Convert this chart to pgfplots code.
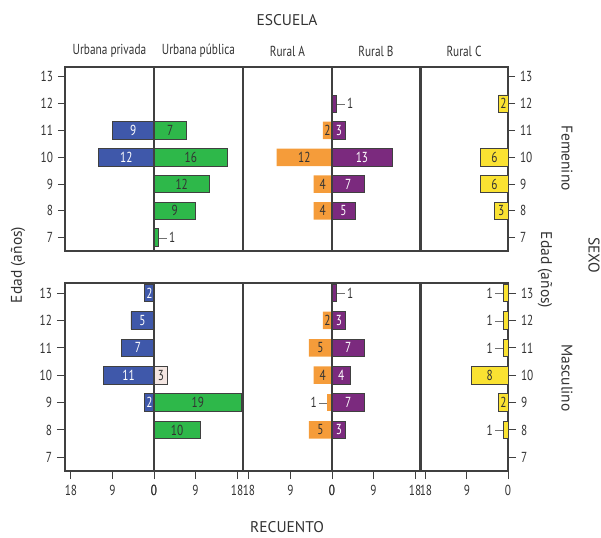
\documentclass[border=0pt]{standalone}
\usepackage{pgfplots}
\pgfplotsset{compat=1.18}
\usepackage{pgfplotstable}
\usepackage{fontspec}
\setmainfont{PT Sans}[FakeStretch=0.78]
\newfontfamily\widefont{PT Sans}
\definecolor{cBlue}{HTML}{3F58AA}
\definecolor{cGreen}{HTML}{2EB84A}
\definecolor{cOrange}{HTML}{F59C3A}
\definecolor{cPurple}{HTML}{7B2A7E}
\definecolor{cYellow}{HTML}{FAE232}
\definecolor{cPink}{HTML}{F4E6E2}
\definecolor{cFrame}{HTML}{404040}
\definecolor{cText}{HTML}{333333}

% ---------- Femenino ----------
\pgfplotstableread{
y v
11 9
10 12
}\FUpriv
\pgfplotstableread{
y v
11 7
10 16
9 12
8 9
}\FUpub
\pgfplotstableread{
y v
7 1
}\FUpubS
\pgfplotstableread{
y v
11 2
10 12
9 4
8 4
}\FRA
\pgfplotstableread{
y v
11 3
10 13
9 7
8 5
}\FRB
\pgfplotstableread{
y v
12 1
}\FRBS
\pgfplotstableread{
y v
12 2
10 6
9 6
8 3
}\FRC
% ---------- Masculino ----------
\pgfplotstableread{
y v
13 2
12 5
11 7
10 11
9 2
}\MUpriv
\pgfplotstableread{
y v
9 19
8 10
}\MUpub
\pgfplotstableread{
y v
10 3
}\MUpubP
\pgfplotstableread{
y v
12 2
11 5
10 4
8 5
}\MRA
\pgfplotstableread{
y v
9 1
}\MRAS
\pgfplotstableread{
y v
12 3
11 7
10 4
9 7
8 3
}\MRB
\pgfplotstableread{
y v
13 1
}\MRBS
\pgfplotstableread{
y v
10 8
9 2
}\MRC
\pgfplotstableread{
y v
13 1
12 1
11 1
8 1
}\MRCS

\newcommand{\lf}{\fontsize{14.5}{16}\selectfont}
\newcommand{\tf}{\widefont\fontsize{15.5}{17}\selectfont}
\newcommand{\leader}{\textcolor{cText!70}{\rule[0.3em]{8pt}{0.8pt}}}

\pgfplotsset{
  panel/.style={scale only axis, width=89pt, anchor=north west,
    xmin=0, xmax=19.3, ymin=6.5, ymax=13.37,
    axis line style={cFrame, line width=1.2pt},
    xtick=\empty, ytick=\empty, clip=false,
    tick style={cFrame, line width=1pt}, tick align=outside,
    major tick length=7pt,
    ticklabel style={font=\lf, text=cText},
    /pgf/number format/assume math mode=true},
  toprow/.style={panel, height=184pt},
  botrow/.style={panel, height=188pt, xtick={0,9,18}, xtick pos=bottom,
    major tick length=8pt, xticklabel style={yshift=-1pt}},
  leftax/.style={ytick={7,...,13}, ytick pos=left},
  rightax/.style={ytick={7,...,13}, ytick pos=right, yticklabel pos=right},
  rev/.style={x dir=reverse},
  barp/.style={xbar, bar shift=0pt, bar width=17.5pt, fill=#1, draw=cFrame, line width=0.8pt},
  barq/.style={xbar, bar shift=0pt, bar width=17.5pt, fill=#1, draw=none},
  inlab/.style={only marks, mark=none, point meta=explicit, nodes near coords,
    nodes near coords align={center},
    every node near coord/.append style={font=\lf, text=#1, inner sep=0pt, anchor=center}},
  outR/.style={only marks, mark=none, nodes near coords={\leader\,1},
    nodes near coords align={west},
    every node near coord/.append style={font=\lf, text=cText, inner sep=0pt, anchor=west}},
  outL/.style={only marks, mark=none, nodes near coords={1\,\leader},
    nodes near coords align={east},
    every node near coord/.append style={font=\lf, text=cText, inner sep=0pt, anchor=east}},
}

\begin{document}
\lf
\begin{tikzpicture}
\useasboundingbox (0,0) rectangle (601pt,-537pt);

% ================= TOP ROW: Femenino =================
\begin{axis}[toprow, leftax, rev, at={(65pt,-67pt)}]
\addplot[barp=cBlue] table[x=v,y=y] \FUpriv;
\addplot[inlab=white] table[x expr=\thisrow{v}/2, y=y, meta=v] \FUpriv;
\end{axis}
\begin{axis}[toprow, at={(154pt,-67pt)}]
\addplot[barp=cGreen] table[x=v,y=y] \FUpub;
\addplot[barp=cGreen] table[x=v,y=y] \FUpubS;
\addplot[inlab=cText] table[x expr=\thisrow{v}/2, y=y, meta=v] \FUpub;
\addplot[outR] table[x=v,y=y] \FUpubS;
\end{axis}
\begin{axis}[toprow, rev, at={(243pt,-67pt)}]
\addplot[barq=cOrange] table[x=v,y=y] \FRA;
\addplot[inlab=cText] table[x expr=\thisrow{v}/2, y=y, meta=v] \FRA;
\end{axis}
\begin{axis}[toprow, at={(332pt,-67pt)}]
\addplot[barp=cPurple] table[x=v,y=y] \FRB;
\addplot[barp=cPurple] table[x=v,y=y] \FRBS;
\addplot[inlab=white] table[x expr=\thisrow{v}/2, y=y, meta=v] \FRB;
\addplot[outR] table[x=v,y=y] \FRBS;
\end{axis}
\begin{axis}[toprow, rightax, rev, at={(420pt,-67pt)}, width=88pt]
\addplot[barp=cYellow] table[x=v,y=y] \FRC;
\addplot[inlab=cText] table[x expr=\thisrow{v}/2, y=y, meta=v] \FRC;
\end{axis}

% ================= BOTTOM ROW: Masculino =================
\begin{axis}[botrow, leftax, rev, at={(65pt,-283pt)}]
\addplot[barp=cBlue] table[x=v,y=y] \MUpriv;
\addplot[inlab=white] table[x expr=\thisrow{v}/2, y=y, meta=v] \MUpriv;
\end{axis}
\begin{axis}[botrow, at={(154pt,-283pt)}]
\addplot[barp=cGreen] table[x=v,y=y] \MUpub;
\addplot[barp=cPink] table[x=v,y=y] \MUpubP;
\addplot[inlab=cText] table[x expr=\thisrow{v}/2, y=y, meta=v] \MUpub;
\addplot[inlab=cText] table[x expr=\thisrow{v}/2, y=y, meta=v] \MUpubP;
\end{axis}
\begin{axis}[botrow, rev, at={(243pt,-283pt)}]
\addplot[barq=cOrange] table[x=v,y=y] \MRA;
\addplot[barq=cOrange] table[x=v,y=y] \MRAS;
\addplot[inlab=cText] table[x expr=\thisrow{v}/2, y=y, meta=v] \MRA;
\addplot[outL] table[x=v,y=y] \MRAS;
\end{axis}
\begin{axis}[botrow, at={(332pt,-283pt)}]
\addplot[barp=cPurple] table[x=v,y=y] \MRB;
\addplot[barp=cPurple] table[x=v,y=y] \MRBS;
\addplot[inlab=white] table[x expr=\thisrow{v}/2, y=y, meta=v] \MRB;
\addplot[outR] table[x=v,y=y] \MRBS;
\end{axis}
\begin{axis}[botrow, rightax, rev, at={(420pt,-283pt)}, width=88pt, xtick={0,9,18}]
\addplot[barp=cYellow] table[x=v,y=y] \MRC;
\addplot[barp=cYellow] table[x=v,y=y] \MRCS;
\addplot[inlab=cText] table[x expr=\thisrow{v}/2, y=y, meta=v] \MRC;
\addplot[outL] table[x=v,y=y] \MRCS;
\end{axis}

% ================= Titles =================
\begin{scope}[every node/.style={text=cText, inner sep=0pt}]
\node[font=\tf] at (287pt,-20pt) {ESCUELA};
\node at (109.5pt,-51pt) {Urbana privada};
\node at (198.5pt,-51pt) {Urbana pública};
\node at (287.5pt,-51pt) {Rural A};
\node at (376pt,-51pt) {Rural B};
\node at (464pt,-51pt) {Rural C};
\node[font=\tf] at (287pt,-527pt) {RECUENTO};
\node[rotate=90, font=\tf] at (18pt,-265pt) {Edad (años)};
\node[rotate=-90, font=\tf] at (567pt,-158pt) {Femenino};
\node[rotate=-90, font=\tf] at (567pt,-378pt) {Masculino};
\node[rotate=-90, font=\tf] at (545pt,-270pt) {Edad (años)};
\node[rotate=-90, font=\tf] at (594pt,-255pt) {SEXO};
\end{scope}
\end{tikzpicture}
\end{document}
